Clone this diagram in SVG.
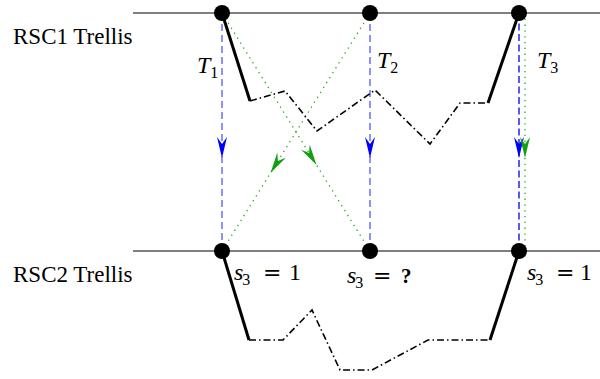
<svg xmlns="http://www.w3.org/2000/svg" width="600" height="379" viewBox="0 0 600 379">
<style>
.trellis{stroke:#000;stroke-width:1.2;fill:none}
.node{fill:#000}
.lbl{font-family:"Liberation Serif","Times New Roman",serif;font-size:23px;fill:#000}
.math{font-family:"Liberation Serif","Times New Roman",serif;font-style:italic;font-size:24px;fill:#000}
.sub{font-size:16px;font-style:normal}
.rm{font-family:"Liberation Serif","Times New Roman",serif;font-size:24px;fill:#000}
.eq{font-family:"DejaVu Serif",serif;font-size:22px;fill:#000}
.thick{stroke:#000;stroke-width:3;fill:none}
.dd{stroke:#000;stroke-width:1.6;fill:none;stroke-dasharray:7 3 1.5 3}
.blue{stroke:#5555ff;stroke-width:1.3;fill:none;stroke-dasharray:7 4}
.blue2{stroke:#0000ee;stroke-width:1.3;fill:none;stroke-dasharray:7 3.5}
.green{stroke:#1faa1f;stroke-width:1.3;fill:none;stroke-dasharray:1.3 4.5}
</style>
<defs>
<marker id="ab" markerUnits="userSpaceOnUse" markerWidth="30" markerHeight="30" refX="0" refY="0" viewBox="-25 -15 30 30" orient="auto" overflow="visible">
<path d="M0,0 L-21,-5 L-14,0 L-21,5 Z" fill="#0000ff"/>
</marker>
<marker id="ag" markerUnits="userSpaceOnUse" markerWidth="30" markerHeight="30" refX="0" refY="0" viewBox="-25 -15 30 30" orient="auto" overflow="visible">
<path d="M0,0 L-21,-5 L-14,0 L-21,5 Z" fill="#10a010"/>
</marker>
</defs>
<g id="trellis-lines">
<line class="trellis" x1="133" y1="13" x2="600" y2="13"/>
<line class="trellis" x1="133" y1="251" x2="600" y2="251"/>
</g>
<g id="labels">
<text class="lbl" x="13" y="44">RSC1 Trellis</text>
<text class="lbl" x="13" y="282">RSC2 Trellis</text>
<text class="math" x="197" y="73">T<tspan class="sub" dy="5">1</tspan></text>
<text class="math" x="377" y="68">T<tspan class="sub" dy="5">2</tspan></text>
<text class="math" x="537" y="68">T<tspan class="sub" dy="5">3</tspan></text>
<text class="math" x="234" y="280">s<tspan class="sub" dy="5" dx="-1">3</tspan></text>
<text class="eq" x="263" y="280">=</text>
<text class="rm" x="289" y="280">1</text>
<text class="math" x="347" y="283">s<tspan class="sub" dy="5" dx="-1">3</tspan></text>
<text class="eq" x="373" y="283">=</text>
<text class="rm" x="401" y="283" style="font-weight:bold;font-size:21px">?</text>
<text class="math" x="527" y="280">s<tspan class="sub" dy="5" dx="-1">3</tspan></text>
<text class="eq" x="556" y="280">=</text>
<text class="rm" x="580" y="280">1</text>
</g>
<g id="connectors">
<path class="blue" d="M222,13 L222,158 L222,251" marker-mid="url(#ab)"/>
<path class="blue" d="M370,13 L370,158 L370,251" marker-mid="url(#ab)"/>
<path class="blue2" d="M519,13 L519,158 L519,251" marker-mid="url(#ab)"/>
<path class="green" d="M525,13 L525,158 L525,251" marker-mid="url(#ag)"/>
<path class="green" d="M222,13 L316.5,165 L370,251" marker-mid="url(#ag)"/>
<path class="green" d="M370,13 L270.5,173 L222,251" marker-mid="url(#ag)"/>
<path class="thick" d="M222,13 L250,101"/>
<path class="dd" d="M250,101 L285,91 L317,131 L375,90 L430,144 L460,103 L488,103"/>
<path class="thick" d="M488,103 L519,13"/>
<path class="thick" d="M222,251 L249,340"/>
<path class="dd" d="M249,340 L283,340 L312,310 L340,370 L372,370 L428,340 L490,340"/>
<path class="thick" d="M490,340 L519,251"/>
</g>
<g id="n1"><circle class="node" cx="222" cy="13" r="8"/></g>
<g id="n2"><circle class="node" cx="370" cy="13" r="8"/></g>
<g id="n3"><circle class="node" cx="519" cy="13" r="8"/></g>
<g id="n4"><circle class="node" cx="222" cy="251" r="8"/></g>
<g id="n5"><circle class="node" cx="370" cy="251" r="8"/></g>
<g id="n6"><circle class="node" cx="519" cy="251" r="8"/></g>
</svg>
